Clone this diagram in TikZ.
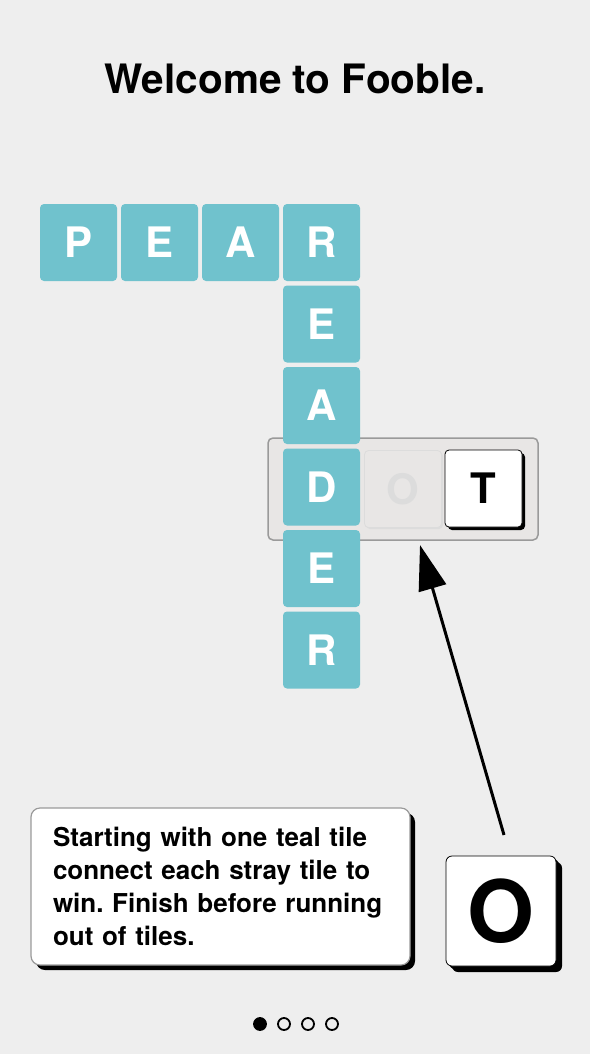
\documentclass[tikz,border=0pt]{standalone}
\usepackage{fontspec}
\setmainfont{TeX Gyre Heros}
\usepackage{xcolor}
\usepackage{tikz}
\usetikzlibrary{shapes}
\usetikzlibrary{arrows.meta}
\usetikzlibrary{positioning}
\usetikzlibrary{shadows}
\usetikzlibrary{calc}
\definecolor{teal}{HTML}{70C2CD}
\definecolor{bg}{HTML}{EEEEEE}
\definecolor{tray}{HTML}{E8E6E5}
\definecolor{rim}{HTML}{9A9A9A}
\definecolor{ghost}{HTML}{DCDCDC}
\frenchspacing
\tikzset{
  tile/.style={rectangle,rounded corners=4pt,minimum size=77pt,inner sep=0pt,
    fill=teal,text=white,font=\fontsize{42}{42}\selectfont\bfseries},
  stray/.style={tile,fill=white,text=black,draw=black,line width=0.8pt,
    drop shadow={shadow xshift=3pt,shadow yshift=-3pt,fill=black,opacity=1}},
  ghosttile/.style={tile,fill=tray,text=ghost,draw=ghost,line width=0.8pt,
    drop shadow={shadow xshift=1.5pt,shadow yshift=-1.5pt,fill=ghost,opacity=1}},
  dot/.style={circle,minimum size=12pt,inner sep=0pt,draw=black,line width=1.8pt}
}
\begin{document}
\begin{tikzpicture}[x=1pt,y=-1pt]
  \fill[bg] (0,0) rectangle (590,1054);
  \useasboundingbox (0,0) rectangle (590,1054);
  \node[font=\fontsize{40.5}{40.5}\selectfont\bfseries] (title) at (295,79) {Welcome to Fooble.};
  % tray behind the column
  \draw[fill=tray,draw=rim,line width=1.5pt,rounded corners=5pt] (268,438) rectangle (538,540);
  \foreach \l [count=\i] in {P,E,A,R} \node[tile] (row\i) at (78.5+81*\i-81,242.5) {\l};
  \foreach \l [count=\i] in {E,A,D,E,R} \node[tile] (col\i) at (321.5,242.5+81.5*\i) {\l};
  \node[ghosttile] (ghostO) at (403,489) {O};
  \node[stray] (tileT) at (483.5,488.5) {T};
  % hint box
  \node[draw=rim,fill=white,line width=1.2pt,rounded corners=9pt,minimum width=379pt,minimum height=157pt,
    drop shadow={shadow xshift=5pt,shadow yshift=-5pt,fill=black,opacity=1},inner sep=0pt,
    align=left,text width=335pt,font=\fontsize{26}{33}\selectfont\bfseries] (hint) at (220.5,886.5)
    {Starting with one teal tile\\connect each stray tile to\\win. Finish before running\\out of tiles.};
  \node[stray,minimum size=110pt,rounded corners=6pt,font=\fontsize{86}{86}\selectfont\bfseries,
    drop shadow={shadow xshift=6pt,shadow yshift=-6pt,fill=black,opacity=1}] (bigO) at (501,911) {O};
  \coordinate (tail) at (504,835);
  \coordinate (slot) at (420,545);
  \draw[line width=3pt,-{Triangle[length=45pt,width=28pt]}] (tail) -- (slot);
  % page dots
  \node[dot,fill=black] (d1) at (260,1024) {};
  \foreach \x [count=\i from 2] in {284,308,332} \node[dot] (d\i) at (\x,1024) {};
\end{tikzpicture}
\end{document}
